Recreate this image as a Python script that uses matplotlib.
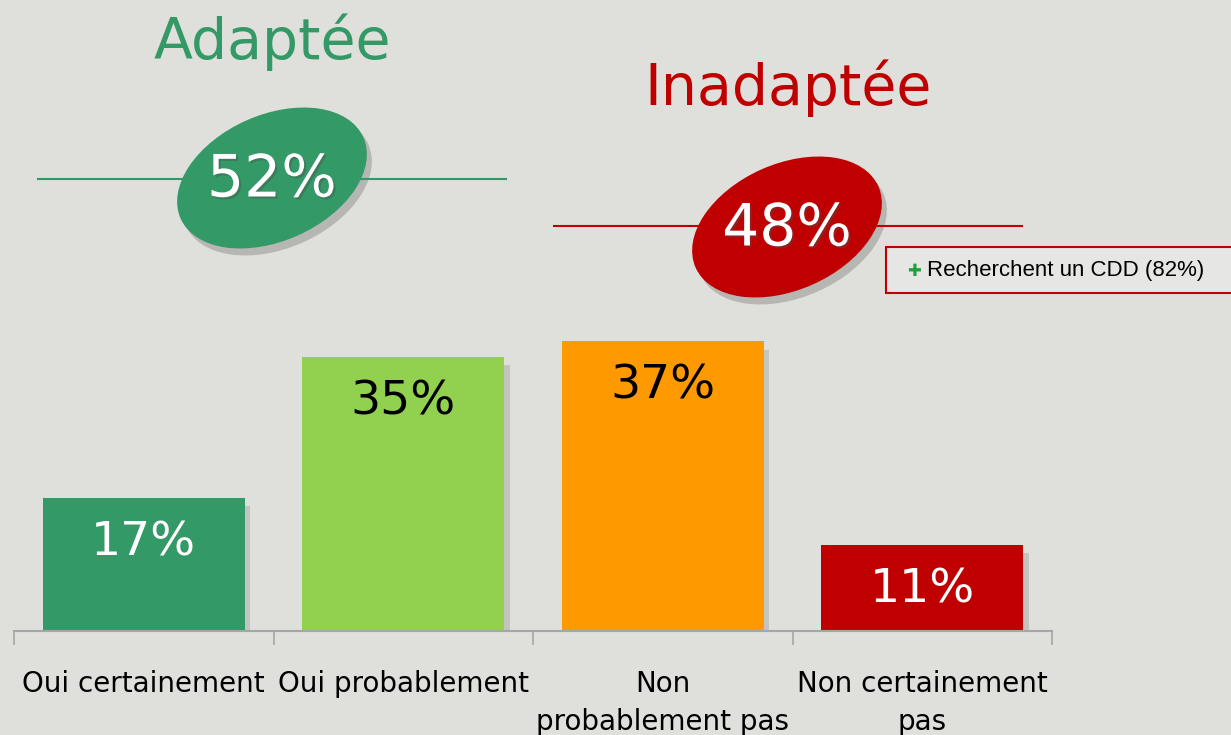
import numpy as np
import matplotlib.pyplot as plt
from matplotlib.patches import Ellipse, Rectangle
import matplotlib.patheffects as pe

# données
categories = ["Oui certainement", "Oui probablement", "Non\nprobablement pas", "Non certainement\npas"]
valeurs = [17, 35, 37, 11]
couleurs = ["#339966", "#92d050", "#ff9900", "#c00000"]
couleurs_txt = ["white", "black", "black", "white"]
groupes = ["Adaptée", "Inadaptée"]
totaux = [52, 48]
note = "Recherchent un CDD (82%)"

fond = "#dfe0db"
W, H = 1231, 735
fig = plt.figure(figsize=(W / 100, H / 100), dpi=100, facecolor=fond)

# axe des barres
ax = fig.add_axes([14 / W, 104 / H, 1038 / W, 631 / H])
ax.set_facecolor("none")
x = np.arange(len(categories))
# ombre légère
ax.bar(x + 0.02, np.array(valeurs) - 0.2, width=0.78, bottom=-0.9, color="black", alpha=0.12, zorder=1)
ax.bar(x, valeurs, width=0.78, color=couleurs, zorder=2)
for xi, v, c in zip(x, valeurs, couleurs_txt):
    ax.text(xi, v - 5.8, f"{v}%", ha="center", va="center", fontsize=34, color=c, zorder=3)
ax.set_xlim(-0.5, len(categories) - 0.5)
ax.set_ylim(0, 631 / 7.84)
for s in ["top", "right", "left"]:
    ax.spines[s].set_visible(False)
ax.spines["bottom"].set_color("#a6a6a6")
ax.spines["bottom"].set_linewidth(1.5)
ax.set_yticks([])
ax.set_xticks(np.arange(len(categories) + 1) - 0.5)
ax.set_xticklabels([])
ax.tick_params(axis="x", which="major", length=10, color="#a6a6a6", width=1.2)
ax.set_xticks(x, minor=True)
ax.set_xticklabels(categories, minor=True, fontsize=20, color="black", linespacing=1.45)
ax.tick_params(axis="x", which="minor", length=0, pad=28)

# décor en pixels
deco = fig.add_axes([0, 0, 1, 1], zorder=5)
deco.set_xlim(0, W)
deco.set_ylim(H, 0)
deco.axis("off")

verts = ["#339966", "#c00000"]
# titres
deco.text(272, 42, groupes[0], ha="center", va="center", fontsize=41, color=verts[0])
deco.text(788, 88, groupes[1], ha="center", va="center", fontsize=41, color=verts[1])
# lignes
deco.plot([38, 506], [179, 179], color=verts[0], lw=1.5)
deco.plot([554, 1022], [226, 226], color=verts[1], lw=1.5)
# ellipses
for (cx, cy), col, t in zip([(272, 178), (787, 227)], verts, totaux):
    deco.add_patch(Ellipse((cx + 5, cy + 7), 200, 126, angle=-24, color="black", alpha=0.18, lw=0))
    deco.add_patch(Ellipse((cx, cy), 200, 126, angle=-24, color=col, lw=0))
    deco.text(cx, cy + 2, f"{t}%", ha="center", va="center", fontsize=42, color="white",
              path_effects=[pe.withSimplePatchShadow(offset=(1.5, -1.5), alpha=0.4)])

# encadré
deco.add_patch(Rectangle((886, 247), 350, 46, facecolor="#e6e6e4", edgecolor="#c00000", lw=1.5))
deco.text(914, 271, "✚", ha="center", va="center", fontsize=12, color="#22a040")
deco.text(927, 270, note, ha="left", va="center", fontsize=16, color="black",
          family="Liberation Sans")

fig.savefig("out.png", dpi=100, facecolor=fond)
